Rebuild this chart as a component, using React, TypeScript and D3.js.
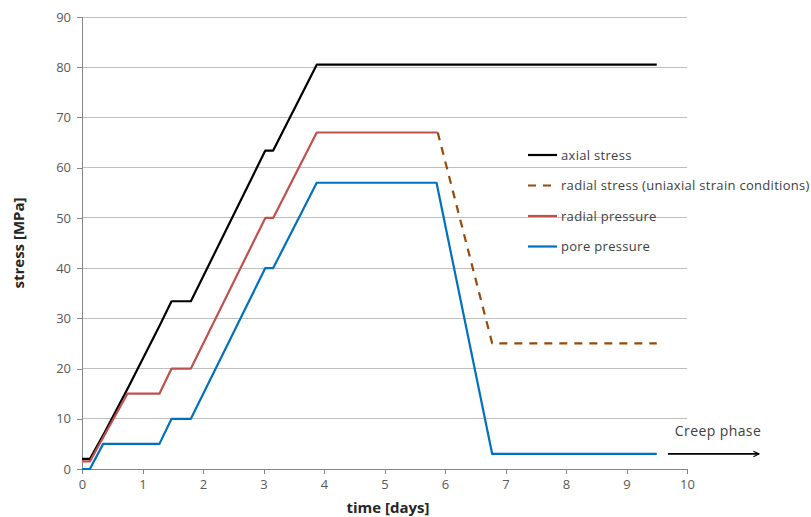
import React, { useEffect, useRef } from "react";
import * as d3 from "d3";

// time [days] and stress [MPa]
const axialTime = [0, 0.13, 0.38, 0.77, 1.29, 1.48, 1.8, 3.03, 3.16, 3.88, 9.5];
const axialStress = [2, 2, 7.4, 16.4, 28.7, 33.4, 33.4, 63.4, 63.4, 80.5, 80.5];

const radialTime = [5.88, 6.78, 9.5];
const radialStress = [67, 25, 25];

const pressureTime = [0, 0.13, 0.75, 1.28, 1.48, 1.8, 3.03, 3.16, 3.88, 5.88];
const radialPressure = [1.5, 1.5, 15, 15, 20, 20, 50, 50, 67, 67];

const poreTime = [0, 0.13, 0.35, 1.28, 1.48, 1.8, 3.03, 3.16, 3.88, 5.86, 6.78, 9.5];
const porePressure = [0, 0, 5, 5, 10, 10, 40, 40, 57, 57, 3, 3];

const xTicks = [0, 1, 2, 3, 4, 5, 6, 7, 8, 9, 10];
const yTicks = [0, 10, 20, 30, 40, 50, 60, 70, 80, 90];

const series = [
  { name: "axial stress", t: axialTime, v: axialStress, color: "#000000", dash: null },
  { name: "radial stress (uniaxial strain conditions)", t: radialTime, v: radialStress, color: "#984807", dash: "8,7" },
  { name: "radial pressure", t: pressureTime, v: radialPressure, color: "#c0504d", dash: null },
  { name: "pore pressure", t: poreTime, v: porePressure, color: "#0070c0", dash: null },
];

const font = "'Open Sans', 'DejaVu Sans', sans-serif";

export default function App() {
  const ref = useRef<SVGSVGElement>(null);

  useEffect(() => {
    const svg = d3.select(ref.current);
    svg.selectAll("*").remove();

    const x = d3.scaleLinear().domain([0, 10]).range([82, 687]);
    const y = d3.scaleLinear().domain([0, 90]).range([469, 17]);

    // gridlines
    svg
      .append("g")
      .selectAll("line")
      .data(yTicks.filter((d) => d > 0))
      .enter()
      .append("line")
      .attr("x1", x(0))
      .attr("x2", x(10))
      .attr("y1", (d) => y(d))
      .attr("y2", (d) => y(d))
      .attr("stroke", "#bfbfbf")
      .attr("stroke-width", 1)
      .attr("shape-rendering", "crispEdges");

    // axes
    const xAxis = svg
      .append("g")
      .attr("transform", `translate(0,${y(0)})`)
      .call(d3.axisBottom(x).tickValues(xTicks).tickSize(5).tickPadding(6).tickFormat(d3.format("d")));
    const yAxis = svg
      .append("g")
      .attr("transform", `translate(${x(0)},0)`)
      .call(d3.axisLeft(y).tickValues(yTicks).tickSize(5).tickPadding(6).tickFormat(d3.format("d")));

    [xAxis, yAxis].forEach((a) => {
      a.select(".domain").attr("stroke", "#868686").attr("shape-rendering", "crispEdges");
      a.selectAll(".tick line").attr("stroke", "#868686").attr("shape-rendering", "crispEdges");
      a.selectAll(".tick text")
        .attr("fill", "#595959")
        .style("font-family", font)
        .style("font-size", "13px");
    });

    // lines
    series.forEach((s) => {
      const pts: [number, number][] = s.t.map((t, i) => [x(t), y(s.v[i])]);
      const path = svg
        .append("path")
        .attr("d", d3.line()(pts))
        .attr("fill", "none")
        .attr("stroke", s.color)
        .attr("stroke-width", 2.2)
        .attr("stroke-linejoin", "round");
      if (s.dash) path.attr("stroke-dasharray", s.dash);
    });

    // legend
    const legend = svg.append("g");
    series.forEach((s, i) => {
      const ly = 155 + i * 30.5;
      const l = legend
        .append("line")
        .attr("x1", 528)
        .attr("x2", 557)
        .attr("y1", ly)
        .attr("y2", ly)
        .attr("stroke", s.color)
        .attr("stroke-width", 2.2);
      if (s.dash) l.attr("stroke-dasharray", "8,7");
      legend
        .append("text")
        .attr("x", 561)
        .attr("y", ly)
        .attr("dy", "0.35em")
        .attr("fill", "#404040")
        .style("font-family", font)
        .style("font-size", "13px")
        .style("letter-spacing", "0.3px")
        .text(s.name);
    });

    // creep phase arrow
    svg
      .append("defs")
      .append("marker")
      .attr("id", "arrow")
      .attr("viewBox", "0 0 10 10")
      .attr("refX", 9)
      .attr("refY", 5)
      .attr("markerWidth", 7)
      .attr("markerHeight", 7)
      .attr("markerUnits", "userSpaceOnUse")
      .attr("orient", "auto")
      .append("path")
      .attr("d", "M1,1 L9,5 L1,9")
      .attr("fill", "none")
      .attr("stroke", "#000")
      .attr("stroke-width", 1.6);
    svg
      .append("line")
      .attr("x1", 668)
      .attr("x2", 759)
      .attr("y1", y(3))
      .attr("y2", y(3))
      .attr("stroke", "#000")
      .attr("stroke-width", 1.8)
      .attr("marker-end", "url(#arrow)");
    svg
      .append("text")
      .attr("x", 718)
      .attr("y", 436)
      .attr("text-anchor", "middle")
      .attr("fill", "#404040")
      .style("font-family", font)
      .style("font-size", "14px")
      .style("letter-spacing", "0.4px")
      .text("Creep phase");

    // axis titles
    svg
      .append("text")
      .attr("x", 388)
      .attr("y", 513)
      .attr("text-anchor", "middle")
      .attr("fill", "#262626")
      .style("font-family", font)
      .style("font-size", "15px")
      .style("font-weight", "bold")
      .text("time [days]");
    svg
      .append("text")
      .attr("transform", `translate(24,243) rotate(-90)`)
      .attr("text-anchor", "middle")
      .attr("fill", "#262626")
      .style("font-family", font)
      .style("font-size", "15px")
      .style("font-weight", "bold")
      .text("stress [MPa]");
  }, []);

  return (
    <svg
      ref={ref}
      width={811}
      height={517}
      style={{ position: "absolute", left: 0, top: 0, background: "#fff" }}
    />
  );
}
